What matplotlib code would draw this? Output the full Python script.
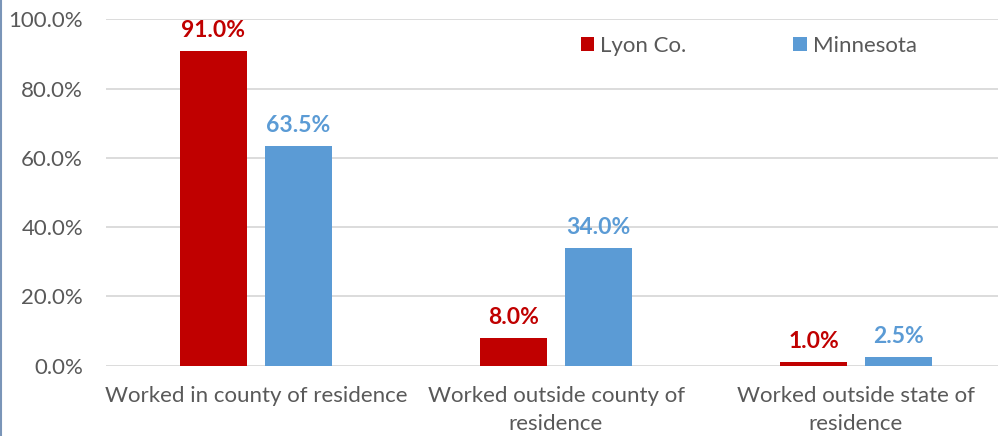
import matplotlib
matplotlib.use("Agg")
import matplotlib.pyplot as plt
from matplotlib.lines import Line2D
import numpy as np

categories = ["Worked in county of residence",
              "Worked outside county of\nresidence",
              "Worked outside state of\nresidence"]
lyon = [91.0, 8.0, 1.0]
minnesota = [63.5, 34.0, 2.5]
series_names = ["Lyon Co.", "Minnesota"]
yticks = [0, 20, 40, 60, 80, 100]

red = "#C00000"
blue = "#5B9BD5"
gray = "#595959"

plt.rcParams["font.family"] = ["Lato", "DejaVu Sans"]

fig = plt.figure(figsize=(9.98, 4.36), dpi=100)
ax = fig.add_axes([106 / 998, 1 - 365.5 / 436, 900 / 998, 346 / 436])

x = np.arange(len(categories))
w = 0.223
off = 0.1417
b1 = ax.bar(x - off, lyon, w, color=red, label=series_names[0], zorder=3)
b2 = ax.bar(x + off, minnesota, w, color=blue, label=series_names[1], zorder=3)

for bars, vals, c in [(b1, lyon, red), (b2, minnesota, blue)]:
    for r, v in zip(bars, vals):
        ax.annotate(f"{v:.1f}%", (r.get_x() + r.get_width() / 2, v),
                    xytext=(0, 7), textcoords="offset points",
                    ha="center", va="bottom", color=c,
                    fontsize=16.5, fontweight="bold")

ax.set_xlim(-0.5, 2.5)
ax.set_ylim(0, 100)
ax.set_yticks(yticks)
ax.set_yticklabels([f"{t:.1f}%" for t in yticks])
ax.set_xticks(x)
ax.set_xticklabels(categories)
for t in ax.get_xticklabels():
    t.set_linespacing(1.45)
ax.tick_params(axis="both", length=0, colors=gray, labelsize=16)
ax.tick_params(axis="y", pad=16.5)
ax.tick_params(axis="x", pad=15)
ax.grid(axis="y", color="#D9D9D9", linewidth=1.3, zorder=0)
for s in ax.spines.values():
    s.set_visible(False)

ax.legend(loc="upper left", bbox_to_anchor=(0.505, 1.01), ncol=2, frameon=False,
          fontsize=16, labelcolor=gray, handlelength=0.6, handleheight=0.6,
          handletextpad=0.3, columnspacing=4.8)

fig.add_artist(Line2D([0.001, 0.001], [0, 1], color="#7A95B8",
                      linewidth=1.5, transform=fig.transFigure))

fig.savefig("out.png", dpi=100)
